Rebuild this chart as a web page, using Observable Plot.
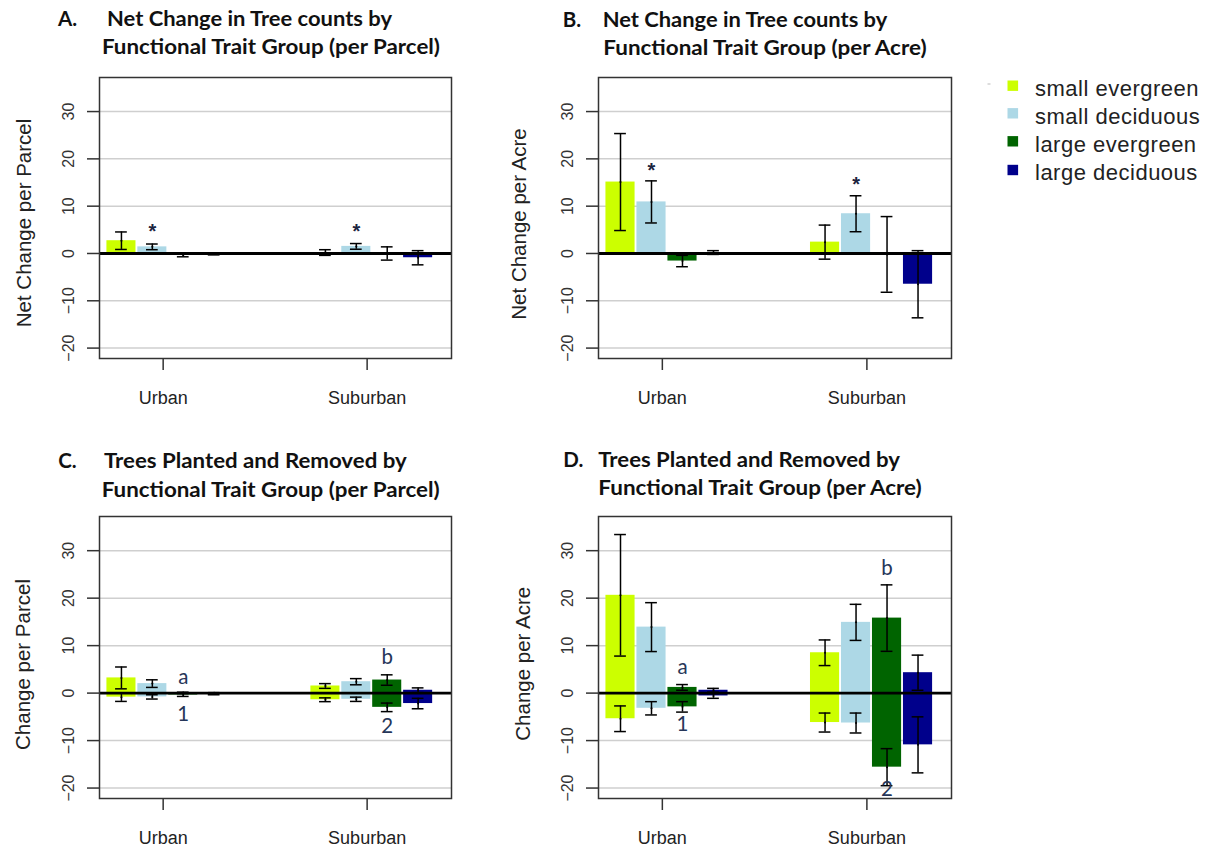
<!DOCTYPE html>
<html>
<head>
<meta charset="utf-8">
<script src="https://cdn.jsdelivr.net/npm/d3@7"></script>
<script src="https://cdn.jsdelivr.net/npm/@observablehq/plot@0.6"></script>
<style>
  body { margin: 0; background: #fff; }
  #page { position: relative; width: 1207px; height: 847px; overflow: hidden; background: #fff; }
  .panel { position: absolute; }
  #overlay { position: absolute; left: 0; top: 0; pointer-events: none; }
</style>
</head>
<body>
<div id="page"></div>
<script>
// ---------------- data ----------------
const areas = ["Urban", "Suburban"];
const groups = ["small evergreen", "small deciduous", "large evergreen", "large deciduous"];
const colors = ["#CCFF00", "#ADD8E6", "#006400", "#00008B"];
const yTicks = [-20, -10, 0, 10, 20, 30];

// A. net change per parcel  [Urban row, Suburban row]
const netParcelMean = [[2.7, 1.4, -0.4, -0.1], [0.2, 1.5, 0.0, -0.9]];
const netParcelSE   = [[1.85, 0.6, 0.3, 0.2], [0.6, 0.6, 1.4, 1.5]];
// B. net change per acre
const netAcreMean = [[15.1, 10.9, -1.6, 0.2], [2.4, 8.4, -0.2, -6.5]];
const netAcreSE   = [[10.25, 4.45, 1.2, 0.4], [3.6, 3.8, 8.0, 7.1]];
// C. planted / removed per parcel
const plantedParcelMean = [[3.2, 2.0, 0.1, 0.05], [1.5, 2.4, 2.75, 0.6]];
const plantedParcelSE   = [[2.3, 0.8, 0.1, 0.05], [0.5, 0.65, 1.1, 0.5]];
const removedParcelMean = [[-0.85, -0.8, -0.4, -0.2], [-1.4, -1.3, -3.0, -2.2]];
const removedParcelSE   = [[0.9, 0.45, 0.3, 0.15], [0.4, 0.45, 0.9, 1.1]];
// D. planted / removed per acre
const plantedAcreMean = [[20.6, 13.9, 1.2, 0.6], [8.5, 14.9, 15.8, 4.3]];
const plantedAcreSE   = [[12.8, 5.15, 0.6, 0.4], [2.7, 3.8, 7.0, 3.7]];
const removedAcreMean = [[-5.4, -3.2, -2.9, -0.6], [-6.2, -6.3, -15.6, -10.9]];
const removedAcreSE   = [[2.7, 1.4, 1.1, 0.5], [2.0, 2.1, 3.9, 5.9]];

// annotations
const starsA = [
  {area: "Urban", group: "small deciduous", value: 5.6, label: "*"},
  {area: "Suburban", group: "small deciduous", value: 5.6, label: "*"}
];
const starsB = [
  {area: "Urban", group: "small deciduous", value: 18.45, label: "*"},
  {area: "Suburban", group: "small deciduous", value: 15.6, label: "*"}
];
const lettersC = [
  {area: "Urban", group: "large evergreen", value: 3.35, label: "a"},
  {area: "Urban", group: "large evergreen", value: -4.4, label: "1"},
  {area: "Suburban", group: "large evergreen", value: 7.56, label: "b"},
  {area: "Suburban", group: "large evergreen", value: -7.0, label: "2"}
];
const lettersD = [
  {area: "Urban", group: "large evergreen", value: 5.45, label: "a"},
  {area: "Urban", group: "large evergreen", value: -6.6, label: "1"},
  {area: "Suburban", group: "large evergreen", value: 26.2, label: "b"},
  {area: "Suburban", group: "large evergreen", value: -20.2, label: "2"}
];

const titles = [
  {letter: "A.", lines: ["Net Change in Tree counts by", "Functional Trait Group (per Parcel)"]},
  {letter: "B.", lines: ["Net Change in Tree counts by", "Functional Trait Group (per Acre)"]},
  {letter: "C.", lines: ["Trees Planted and Removed by", "Functional Trait Group (per Parcel)"]},
  {letter: "D.", lines: ["Trees Planted and Removed by", "Functional Trait Group (per Acre)"]}
];
const yLabels = ["Net Change per Parcel", "Net Change per Acre", "Change per Parcel", "Change per Acre"];

// ---------------- layout ----------------
const GROUP_STEP = 6.6, BAR_INSET = 0.03, CAP_HALF = 0.19, TICK_SHIFT = 1.85;
const X_DOMAIN = [-0.21, 11.18];
const Y_DOMAIN = [-22.2, 37.2];
const SANS = "'Liberation Sans', Arial, sans-serif";
const TITLE_FONT = "Lato, 'Open Sans', sans-serif";

function rowsOf(M, S) {
  return areas.flatMap((a, ai) => groups.map((g, gi) => ({area: a, group: g, ai, gi, mean: M[ai][gi], se: S[ai][gi]})));
}
const slot = d => areas.indexOf(d.area) * GROUP_STEP + groups.indexOf(d.group);
const xc = d => slot(d) + 0.5;

function errorMarks(rows) {
  return [
    Plot.ruleX(rows, {x: xc, y1: d => d.mean - d.se, y2: d => d.mean + d.se, stroke: "#000", strokeWidth: 1.5}),
    Plot.ruleY(rows, {y: d => d.mean + d.se, x1: d => xc(d) - CAP_HALF, x2: d => xc(d) + CAP_HALF, stroke: "#000", strokeWidth: 1.5}),
    Plot.ruleY(rows, {y: d => d.mean - d.se, x1: d => xc(d) - CAP_HALF, x2: d => xc(d) + CAP_HALF, stroke: "#000", strokeWidth: 1.5}),
    Plot.dot(rows, {x: xc, y: "mean", r: 1, fill: "#000", stroke: null})
  ];
}

function panel(cfg) {
  const seriesRows = cfg.series.map(([M, S]) => rowsOf(M, S));
  const marks = [
    Plot.ruleY(yTicks, {stroke: "#cfcfcf", strokeWidth: 1.5}),
    ...seriesRows.map(rows => Plot.rectY(rows, {
      x1: d => slot(d) + BAR_INSET, x2: d => slot(d) + 1 - BAR_INSET,
      y1: 0, y2: "mean", fill: "group"
    })),
    Plot.ruleY([0], {stroke: "#000", strokeWidth: 2.8}),
    ...seriesRows.flatMap(errorMarks),
    Plot.frame({stroke: "#333", strokeWidth: 1.5}),
    Plot.axisX({
      ticks: areas.map((a, i) => i * GROUP_STEP + TICK_SHIFT),
      tickFormat: v => areas[Math.round((v - TICK_SHIFT) / GROUP_STEP)],
      tickSize: 12, tickPadding: 21, fontSize: 18, label: null,
      stroke: "#333", strokeWidth: 1.5, fill: "#222"
    }),
    Plot.axisY({
      ticks: yTicks, tickSize: 12, tickRotate: -90, tickPadding: 14, fontSize: 16, label: null,
      stroke: "#333", strokeWidth: 1.5, fill: "#333"
    }),
    Plot.text([cfg.ylabel], {frameAnchor: "left", textAnchor: "middle", lineAnchor: "middle",
      dx: cfg.ylabelDx, dy: cfg.ylabelDy, rotate: -90, fontSize: 20.5, fill: "#222"})
  ];
  if (cfg.stars) marks.push(Plot.text(cfg.stars, {x: xc, y: "value", text: "label", fontSize: 20,
    fontWeight: "bold", fill: "#1c2440", dy: 4.5}));
  if (cfg.letters) marks.push(Plot.text(cfg.letters, {x: xc, y: "value", text: "label", fontSize: 20.5,
    fill: "#263659", fontFamily: TITLE_FONT}));

  const svg = Plot.plot({
    width: cfg.w, height: cfg.h,
    marginTop: cfg.m[0], marginRight: cfg.m[1], marginBottom: cfg.m[2], marginLeft: cfg.m[3],
    x: {domain: X_DOMAIN},
    y: {domain: Y_DOMAIN},
    color: {domain: groups, range: colors},
    style: {fontFamily: SANS, background: "transparent", overflow: "visible", color: "#222"},
    marks
  });
  const div = document.createElement("div");
  div.className = "panel";
  div.style.left = cfg.left + "px";
  div.style.top = cfg.top + "px";
  div.appendChild(svg);
  document.getElementById("page").appendChild(div);
}

panel({left: 0, top: 60, w: 480, h: 360, m: [17, 29, 62, 99],
  series: [[netParcelMean, netParcelSE]], ylabel: yLabels[0], ylabelDx: -75, ylabelDy: 5, stars: starsA});
panel({left: 490, top: 60, w: 480, h: 360, m: [17, 19, 62, 108],
  series: [[netAcreMean, netAcreSE]], ylabel: yLabels[1], ylabelDx: -79, ylabelDy: 6, stars: starsB});
panel({left: 0, top: 500, w: 480, h: 347, m: [16, 29, 49, 99],
  series: [[plantedParcelMean, plantedParcelSE], [removedParcelMean, removedParcelSE]],
  ylabel: yLabels[2], ylabelDx: -76.5, ylabelDy: 7, letters: lettersC});
panel({left: 490, top: 500, w: 480, h: 347, m: [16, 19, 49, 108],
  series: [[plantedAcreMean, plantedAcreSE], [removedAcreMean, removedAcreSE]],
  ylabel: yLabels[3], ylabelDx: -75.5, ylabelDy: 6.3, letters: lettersD});

// ---------------- titles & legend overlay ----------------
const titlePos = [
  {lx: 58, x1: 107, x2: 102, b1: 26, b2: 54, w1: 285, w2: 338},
  {lx: 562.7, x1: 602.7, x2: 603.3, b1: 26.7, b2: 55, w1: 284.6, w2: 323.3},
  {lx: 58.3, x1: 104, x2: 101.7, b1: 468.3, b2: 496.7, w1: 302.7, w2: 338},
  {lx: 563.3, x1: 598.3, x2: 598.3, b1: 466.7, b2: 495, w1: 301.7, w2: 323.4}
];
const ov = d3.select("#page").append("svg").attr("id", "overlay").attr("width", 1207).attr("height", 847);
titles.forEach((t, i) => {
  const p = titlePos[i];
  const g = ov.append("g").attr("font-family", TITLE_FONT).attr("font-weight", 700)
    .attr("font-size", 20.5).attr("fill", "#111");
  g.append("text").attr("x", p.lx).attr("y", p.b1).text(t.letter);
  g.append("text").attr("x", p.x1).attr("y", p.b1)
    .attr("textLength", p.w1).attr("lengthAdjust", "spacingAndGlyphs").text(t.lines[0]);
  g.append("text").attr("x", p.x2).attr("y", p.b2)
    .attr("textLength", p.w2).attr("lengthAdjust", "spacingAndGlyphs").text(t.lines[1]);
});
// legend
const legendRows = [85.7, 113.3, 141.3, 170];
ov.append("line").attr("x1", 987.5).attr("x2", 990.5).attr("y1", 84).attr("y2", 84)
  .attr("stroke", "#bbb").attr("stroke-width", 1);
const lg = ov.append("g").attr("font-family", SANS).attr("font-size", 22).attr("fill", "#222");
groups.forEach((g, i) => {
  lg.append("rect").attr("x", 1007.5).attr("y", legendRows[i] - 5.2).attr("width", 10.6).attr("height", 10.4)
    .attr("fill", colors[i]);
  lg.append("text").attr("x", 1035).attr("y", legendRows[i] + 10.3).attr("letter-spacing", 0.5).text(g);
});
</script>
</body>
</html>
